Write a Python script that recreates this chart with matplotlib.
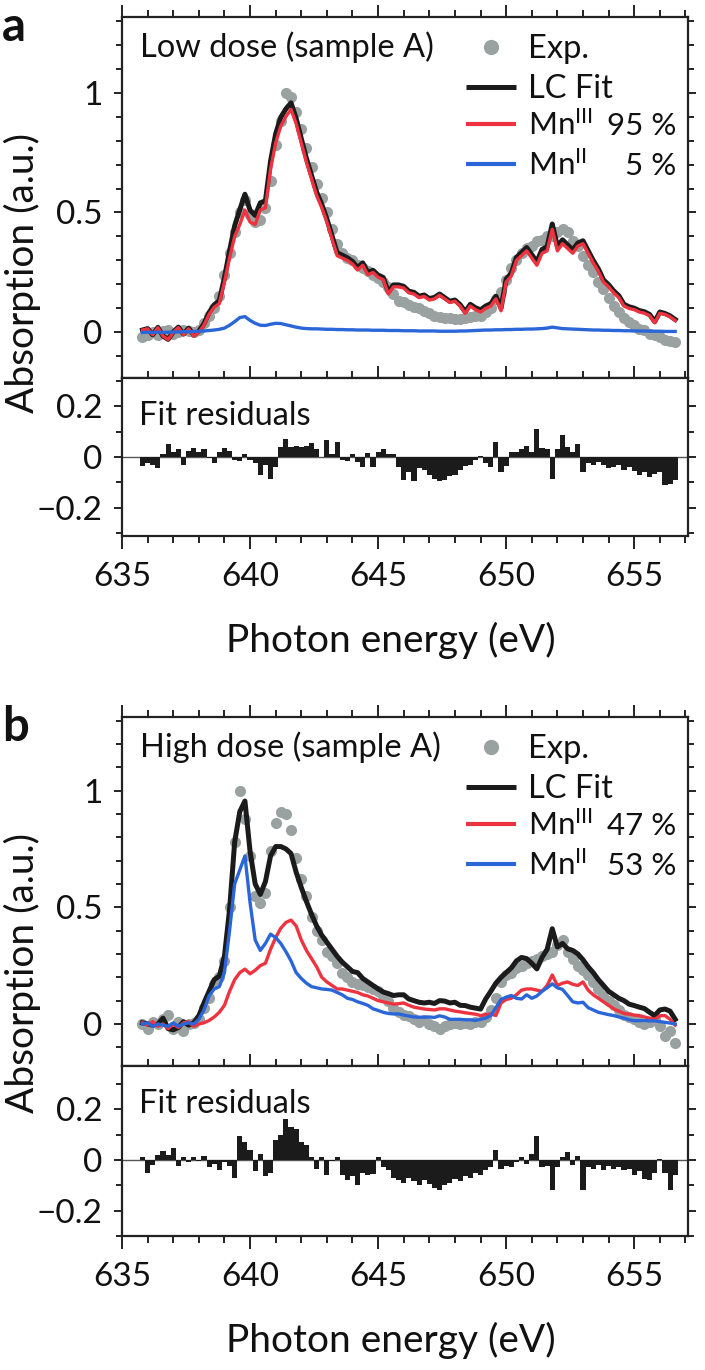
import numpy as np
import matplotlib
matplotlib.use("Agg")
import matplotlib.pyplot as plt
from matplotlib.ticker import MultipleLocator, FixedLocator, FuncFormatter

plt.rcParams['font.family'] = ['Lato', 'DejaVu Sans']
plt.rcParams['mathtext.fontset'] = 'custom'
plt.rcParams['mathtext.rm'] = 'Lato'
plt.rcParams['mathtext.it'] = 'Lato:italic'
plt.rcParams['mathtext.bf'] = 'Lato:bold'

# photon energy grid (eV), 0.2 eV steps
energy = np.round(np.arange(635.8, 656.61, 0.2), 1)

# ---- panel a: low dose ----
exp_a = [-0.02, -0.01, 0.0, -0.01, 0.005, 0.01, -0.005, 0.0, 0.01, 0.005,
         0.0, 0.01, 0.04, 0.07, 0.10, 0.15, 0.24, 0.33, 0.42, 0.50,
         0.55, 0.49, 0.46, 0.47, 0.52, 0.63, 0.78, 0.88, 1.0, 0.98,
         0.92, 0.85, 0.77, 0.69, 0.62, 0.56, 0.50, 0.43, 0.37, 0.33,
         0.31, 0.30, 0.28, 0.27, 0.255, 0.24, 0.225, 0.21, 0.19, 0.16,
         0.13, 0.125, 0.115, 0.105, 0.10, 0.09, 0.08, 0.07, 0.065, 0.06,
         0.06, 0.055, 0.058, 0.06, 0.065, 0.07, 0.07, 0.085, 0.10, 0.14,
         0.17, 0.22, 0.27, 0.30, 0.33, 0.35, 0.36, 0.38, 0.385, 0.40,
         0.40, 0.42, 0.43, 0.42, 0.38, 0.36, 0.32, 0.28, 0.25, 0.21,
         0.18, 0.145, 0.11, 0.085, 0.06, 0.045, 0.03, 0.015, 0.01, -0.005,
         -0.01, -0.02, -0.03, -0.035, -0.04]
fit_a = [0.01, 0.016, -0.01, 0.021, -0.015, -0.029, 0.002, 0.022, -0.007, 0.018,
         -0.011, 0.005, 0.036, 0.083, 0.115, 0.133, 0.228, 0.34, 0.445, 0.512,
         0.576, 0.51, 0.488, 0.54, 0.549, 0.714, 0.828, 0.897, 0.932, 0.957,
         0.892, 0.808, 0.726, 0.655, 0.585, 0.534, 0.473, 0.403, 0.332, 0.322,
         0.311, 0.296, 0.27, 0.29, 0.25, 0.259, 0.239, 0.229, 0.168, 0.198,
         0.198, 0.192, 0.172, 0.167, 0.151, 0.156, 0.141, 0.146, 0.16, 0.145,
         0.13, 0.135, 0.116, 0.086, 0.117, 0.103, 0.094, 0.11, 0.12, 0.151,
         0.101, 0.222, 0.247, 0.313, 0.333, 0.354, 0.324, 0.295, 0.346, 0.358,
         0.452, 0.359, 0.386, 0.365, 0.344, 0.373, 0.382, 0.341, 0.3, 0.265,
         0.219, 0.199, 0.173, 0.153, 0.117, 0.107, 0.101, 0.091, 0.086, 0.075,
         0.045, 0.085, 0.079, 0.069, 0.054]
mn3_a = [0.01, 0.015, -0.01, 0.02, -0.015, -0.03, 0.0, 0.02, -0.01, 0.015,
         -0.015, 0.0, 0.03, 0.075, 0.105, 0.12, 0.21, 0.31, 0.40, 0.45,
         0.51, 0.46, 0.45, 0.51, 0.52, 0.68, 0.79, 0.86, 0.90, 0.93,
         0.87, 0.79, 0.71, 0.64, 0.57, 0.52, 0.46, 0.39, 0.32, 0.31,
         0.30, 0.285, 0.26, 0.28, 0.24, 0.25, 0.23, 0.22, 0.16, 0.19,
         0.19, 0.185, 0.165, 0.16, 0.145, 0.15, 0.135, 0.14, 0.155, 0.14,
         0.125, 0.13, 0.11, 0.08, 0.11, 0.095, 0.085, 0.10, 0.11, 0.14,
         0.09, 0.21, 0.235, 0.30, 0.32, 0.34, 0.31, 0.28, 0.33, 0.34,
         0.43, 0.34, 0.37, 0.35, 0.33, 0.36, 0.37, 0.33, 0.29, 0.255,
         0.21, 0.19, 0.165, 0.145, 0.11, 0.10, 0.095, 0.085, 0.08, 0.07,
         0.04, 0.08, 0.075, 0.065, 0.05]
mn2_a = [0.0, 0.001, 0.0, 0.001, 0.0, 0.001, 0.002, 0.002, 0.003, 0.003,
         0.004, 0.005, 0.006, 0.008, 0.010, 0.013, 0.018, 0.030, 0.045, 0.062,
         0.066, 0.050, 0.038, 0.030, 0.029, 0.034, 0.038, 0.037, 0.032, 0.027,
         0.022, 0.018, 0.016, 0.015, 0.015, 0.014, 0.013, 0.013, 0.012, 0.012,
         0.011, 0.011, 0.010, 0.010, 0.010, 0.009, 0.009, 0.009, 0.008, 0.008,
         0.008, 0.007, 0.007, 0.007, 0.006, 0.006, 0.006, 0.006, 0.005, 0.005,
         0.005, 0.005, 0.006, 0.006, 0.007, 0.008, 0.009, 0.010, 0.010, 0.011,
         0.011, 0.012, 0.012, 0.013, 0.013, 0.014, 0.014, 0.015, 0.016, 0.018,
         0.022, 0.019, 0.016, 0.015, 0.014, 0.013, 0.012, 0.011, 0.010, 0.010,
         0.009, 0.009, 0.008, 0.008, 0.007, 0.007, 0.006, 0.006, 0.006, 0.005,
         0.005, 0.005, 0.004, 0.004, 0.004]
res_a = [-0.035, -0.025, -0.03, -0.045, 0.01, 0.05, 0.02, 0.03, -0.033, 0.025,
         0.035, 0.02, 0.03, -0.005, -0.025, 0.02, 0.035, 0.025, -0.01, -0.015,
         0.01, -0.01, -0.025, -0.07, -0.03, -0.085, -0.04, 0.04, 0.07, 0.04,
         0.045, 0.04, 0.045, 0.055, 0.03, 0.0, 0.065, 0.01, 0.06, -0.01,
         -0.015, 0.01, -0.02, -0.04, 0.015, -0.04, 0.02, 0.03, 0.01, 0.01,
         -0.04, -0.09, -0.06, -0.093, -0.045, -0.05, -0.07, -0.085, -0.095, -0.09,
         -0.075, -0.07, -0.05, -0.035, -0.03, -0.01, 0.005, -0.025, -0.04, 0.06,
         -0.06, -0.035, 0.02, 0.02, 0.03, 0.045, 0.02, 0.11, 0.035, 0.03,
         -0.085, 0.03, 0.085, 0.04, 0.02, 0.05, -0.06, -0.025, -0.03, -0.02,
         -0.03, -0.045, -0.04, -0.03, -0.05, -0.04, -0.055, -0.07, -0.06, -0.08,
         -0.065, -0.06, -0.11, -0.105, -0.09]

# ---- panel b: high dose ----
exp_b = [0.0, -0.02, 0.01, 0.0, 0.02, 0.04, -0.02, 0.01, -0.03, 0.0,
         0.005, 0.02, 0.07, 0.11, 0.17, 0.20, 0.27, 0.50, 0.78, 1.0,
         0.88, 0.72, 0.55, 0.52, 0.56, 0.74, 0.86, 0.91, 0.90, 0.83,
         0.71, 0.62, 0.55, 0.46, 0.40, 0.36, 0.31, 0.29, 0.26, 0.22,
         0.20, 0.18, 0.17, 0.165, 0.16, 0.15, 0.14, 0.12, 0.10, 0.07,
         0.05, 0.04, 0.035, 0.02, 0.01, 0.015, 0.0, -0.01, -0.02, -0.01,
         0.0, 0.005, 0.0, 0.005, 0.0, 0.01, 0.01, 0.03, 0.06, 0.11,
         0.18, 0.21, 0.22, 0.24, 0.25, 0.26, 0.27, 0.28, 0.29, 0.30,
         0.31, 0.34, 0.36, 0.31, 0.28, 0.25, 0.23, 0.21, 0.18, 0.15,
         0.12, 0.10, 0.08, 0.06, 0.04, 0.03, 0.02, 0.01, 0.0, 0.01,
         0.02, -0.01, -0.05, -0.03, -0.08]
fit_b = [0.005, 0.0, -0.005, 0.0, 0.025, -0.02, -0.025, -0.015, 0.01, -0.005,
         0.005, 0.035, 0.09, 0.14, 0.19, 0.205, 0.29, 0.49, 0.78, 0.91,
         0.955, 0.74, 0.60, 0.555, 0.61, 0.72, 0.76, 0.76, 0.75, 0.73,
         0.65, 0.585, 0.525, 0.47, 0.42, 0.38, 0.35, 0.32, 0.29, 0.265,
         0.245, 0.225, 0.22, 0.195, 0.18, 0.165, 0.15, 0.137, 0.13, 0.122,
         0.125, 0.125, 0.107, 0.10, 0.093, 0.09, 0.093, 0.088, 0.10, 0.098,
         0.09, 0.093, 0.08, 0.079, 0.072, 0.068, 0.064, 0.107, 0.14, 0.175,
         0.20, 0.22, 0.24, 0.27, 0.285, 0.28, 0.26, 0.236, 0.285, 0.32,
         0.408, 0.33, 0.345, 0.322, 0.315, 0.30, 0.275, 0.245, 0.22, 0.19,
         0.165, 0.14, 0.125, 0.11, 0.10, 0.085, 0.079, 0.072, 0.066, 0.05,
         0.036, 0.06, 0.064, 0.055, 0.02]
mn3_b = [0.005, -0.005, 0.01, -0.01, 0.0, -0.02, 0.0, -0.015, 0.005, 0.01,
         -0.01, 0.0, 0.005, 0.015, 0.03, 0.05, 0.08, 0.14, 0.19, 0.22,
         0.235, 0.215, 0.23, 0.25, 0.26, 0.32, 0.37, 0.41, 0.435, 0.445,
         0.42, 0.36, 0.315, 0.28, 0.245, 0.20, 0.18, 0.165, 0.15, 0.15,
         0.145, 0.14, 0.135, 0.125, 0.12, 0.11, 0.10, 0.095, 0.09, 0.085,
         0.087, 0.09, 0.08, 0.072, 0.068, 0.064, 0.062, 0.06, 0.065, 0.065,
         0.06, 0.055, 0.052, 0.048, 0.045, 0.042, 0.036, 0.04, 0.043, 0.036,
         0.09, 0.105, 0.11, 0.125, 0.145, 0.15, 0.15, 0.145, 0.14, 0.165,
         0.21, 0.165, 0.175, 0.18, 0.17, 0.165, 0.18, 0.145, 0.125, 0.11,
         0.095, 0.08, 0.065, 0.055, 0.045, 0.042, 0.038, 0.036, 0.03, 0.025,
         0.02, 0.035, 0.036, 0.02, -0.005]
mn2_b = [0.0, 0.005, -0.01, 0.0, -0.005, -0.01, 0.005, -0.01, 0.0, 0.005,
         0.0, 0.02, 0.06, 0.12, 0.15, 0.16, 0.22, 0.40, 0.60, 0.66,
         0.72, 0.52, 0.36, 0.315, 0.345, 0.385, 0.37, 0.345, 0.31, 0.27,
         0.22, 0.195, 0.175, 0.16, 0.155, 0.15, 0.148, 0.145, 0.135, 0.125,
         0.11, 0.105, 0.095, 0.088, 0.08, 0.065, 0.058, 0.05, 0.045, 0.043,
         0.043, 0.038, 0.034, 0.03, 0.029, 0.029, 0.03, 0.028, 0.035, 0.03,
         0.02, 0.02, 0.02, 0.018, 0.018, 0.015, 0.02, 0.025, 0.036, 0.07,
         0.105, 0.115, 0.122, 0.11, 0.107, 0.125, 0.11, 0.12, 0.14, 0.155,
         0.172, 0.155, 0.148, 0.122, 0.095, 0.09, 0.093, 0.07, 0.06, 0.05,
         0.045, 0.04, 0.036, 0.03, 0.025, 0.018, 0.014, 0.014, 0.015, 0.013,
         0.014, 0.01, 0.007, 0.004, 0.0]
res_b = [0.01, -0.05, -0.02, 0.02, 0.035, 0.02, 0.045, -0.025, 0.01, -0.01,
         0.01, -0.005, 0.015, -0.03, -0.015, -0.04, -0.01, -0.025, -0.07, 0.095,
         0.07, 0.04, -0.045, 0.025, -0.065, -0.05, 0.08, 0.10, 0.16, 0.13,
         0.12, 0.07, 0.06, 0.01, -0.035, 0.01, -0.06, -0.005, 0.01, -0.06,
         -0.08, -0.065, -0.10, -0.05, -0.06, -0.055, 0.01, -0.03, -0.04, -0.07,
         -0.08, -0.09, -0.07, -0.085, -0.10, -0.08, -0.095, -0.11, -0.12, -0.10,
         -0.09, -0.075, -0.085, -0.065, -0.07, -0.05, -0.06, -0.04, -0.03, 0.04,
         -0.035, -0.025, -0.03, -0.01, 0.01, -0.015, 0.025, 0.095, -0.03, -0.025,
         -0.12, -0.03, 0.01, 0.03, -0.02, 0.015, -0.12, -0.03, -0.035, -0.02,
         -0.04, -0.025, -0.035, -0.03, -0.04, -0.035, -0.06, -0.045, -0.075, -0.08,
         -0.05, 0.005, -0.05, -0.12, -0.06]

titles = ["Low dose (sample A)", "High dose (sample A)"]
shares = [("95 %", "5 %"), ("47 %", "53 %")]

EXP_C = '#9aa2a1'
FIT_C = '#1b1b1b'
MN3_C = '#ee3340'
MN2_C = '#2b66d8'
AX_C = '#222222'
TXT = 23.5
LEG = 22.5

W, H = 705, 1370
fig = plt.figure(figsize=(W / 100, H / 100), dpi=100)


def box(top, bottom):
    return [122 / W, 1 - bottom / H, 566 / W, (bottom - top) / H]


def fmt(v, pos):
    return ('%g' % v).replace('-', '\u2212')


def style(ax, ylim, yticks, xlabels):
    ax.set_xlim(635, 657.1)
    ax.set_ylim(*ylim)
    ax.xaxis.set_major_locator(MultipleLocator(5))
    ax.xaxis.set_minor_locator(MultipleLocator(1))
    ax.yaxis.set_major_locator(FixedLocator(yticks))
    ax.yaxis.set_minor_locator(MultipleLocator(0.1))
    ax.yaxis.set_major_formatter(FuncFormatter(fmt))
    for s in ax.spines.values():
        s.set_linewidth(1.6)
        s.set_color(AX_C)
    ax.tick_params(which='both', direction='out', top=True, right=True,
                   color=AX_C, width=1.4, labelsize=24, labelcolor='#111')
    ax.tick_params(axis='x', which='major', length=9, pad=10)
    ax.tick_params(axis='x', which='minor', length=5)
    ax.tick_params(axis='y', which='major', length=6, pad=8)
    ax.tick_params(axis='y', which='minor', length=4.5)
    ax.tick_params(axis='x', labelbottom=xlabels)


def panel(main_top, split, res_bottom, exp, fit, mn3, mn2, res, main_lim,
          res_lim, title, share, letter):
    ax = fig.add_axes(box(main_top, split))
    ax.plot(energy, exp, 'o', ms=8, color=EXP_C, mec='none', zorder=1)
    ax.plot(energy, fit, color=FIT_C, lw=3.6, zorder=2)
    ax.plot(energy, mn3, color=MN3_C, lw=2.4, zorder=3)
    ax.plot(energy, mn2, color=MN2_C, lw=2.4, zorder=4)
    style(ax, main_lim, [0, 0.5, 1], False)

    hpx = split - main_top

    def fy(dy):
        return 1 - dy / hpx

    ax.text(0.032, fy(40), title, transform=ax.transAxes, fontsize=TXT,
            va='baseline', color='#111')
    # legend
    ax.plot([0.652], [fy(30)], 'o', ms=11, color=EXP_C, mec='none',
            transform=ax.transAxes)
    ax.text(0.717, fy(41), 'Exp.', transform=ax.transAxes, fontsize=TXT,
            va='baseline', color='#111')
    rows = [(FIT_C, 3.6, 'LC Fit', '', 70),
            (MN3_C, 3.0, r'Mn$^{\mathrm{III}}$', share[0], 107),
            (MN2_C, 3.0, r'Mn$^{\mathrm{II}}$', share[1], 147)]
    for c, lw, lab, pct, dy in rows:
        ax.plot([0.608, 0.696], [fy(dy), fy(dy)], color=c, lw=lw,
                transform=ax.transAxes, solid_capstyle='butt')
        ax.text(0.717, fy(dy + 11), lab, transform=ax.transAxes,
                fontsize=TXT if not pct else LEG, va='baseline', color='#111')
        if pct:
            ax.text(0.98, fy(dy + 11), pct, transform=ax.transAxes,
                    fontsize=LEG, va='baseline', ha='right', color='#111')

    rx = fig.add_axes(box(split, res_bottom))
    rx.axhline(0, color='#555555', lw=1.0, zorder=1)
    rx.bar(energy, res, width=0.2, color=FIT_C, lw=0, zorder=2)
    style(rx, res_lim, [-0.2, 0, 0.2], True)
    rx.text(0.03, 1 - 47 / (res_bottom - split), 'Fit residuals',
            transform=rx.transAxes, fontsize=TXT, va='baseline', color='#111')

    fig.text(2 / W, 1 - (main_top + 24) / H, letter, fontsize=34,
             fontweight='bold', va='baseline', color='#111')
    fig.text(22 / W, 1 - (main_top + 256) / H, 'Absorption (a.u.)',
             rotation=90, ha='center', va='center', fontsize=28, color='#111')
    fig.text(391 / W, 1 - (res_bottom + 104) / H, 'Photon energy (eV)',
             ha='center', va='center', fontsize=28, color='#111')


panel(17, 378, 536, exp_a, fit_a, mn3_a, mn2_a, res_a, (-0.19, 1.315),
      (-0.31, 0.31), titles[0], shares[0], 'a')
panel(717, 1066, 1236, exp_b, fit_b, mn3_b, mn2_b, res_b, (-0.18, 1.315),
      (-0.30, 0.37), titles[1], shares[1], 'b')

fig.savefig('out.png', dpi=100)
